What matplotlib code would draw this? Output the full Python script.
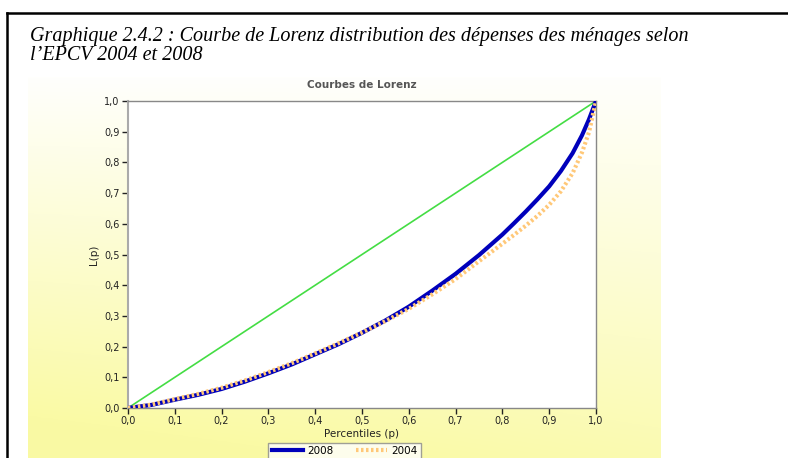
import numpy as np
import matplotlib
matplotlib.use("Agg")
from matplotlib import pyplot as plt

# percentiles (p) and Lorenz ordinates L(p)
p = [0.0, 0.05, 0.1, 0.15, 0.2, 0.25, 0.3, 0.35, 0.4, 0.45, 0.5, 0.55,
     0.6, 0.65, 0.7, 0.75, 0.8, 0.825, 0.85, 0.875, 0.9, 0.925, 0.95,
     0.97, 0.985, 1.0]
lorenz_2008 = [0.0, 0.010, 0.027, 0.043, 0.062, 0.086, 0.113, 0.142, 0.175,
               0.208, 0.245, 0.285, 0.330, 0.382, 0.437, 0.498, 0.565, 0.602,
               0.640, 0.680, 0.722, 0.772, 0.830, 0.888, 0.940, 1.0]
lorenz_2004 = [0.0, 0.011, 0.029, 0.046, 0.066, 0.090, 0.117, 0.146, 0.178,
               0.211, 0.246, 0.283, 0.323, 0.370, 0.420, 0.478, 0.535, 0.564,
               0.594, 0.626, 0.662, 0.706, 0.765, 0.832, 0.898, 1.0]
equality = [0.0, 1.0]

ticks = [0.0, 0.1, 0.2, 0.3, 0.4, 0.5, 0.6, 0.7, 0.8, 0.9, 1.0]
tick_labels = ["0,0", "0,1", "0,2", "0,3", "0,4", "0,5", "0,6", "0,7", "0,8", "0,9", "1,0"]

W, H = 788, 458
fig = plt.figure(figsize=(W / 100, H / 100), dpi=100)
fig.patch.set_facecolor("white")

# document frame (black border, open at the bottom and right)
fig.add_artist(plt.Line2D([7 / W, 7 / W], [0, 1 - 13 / H], color="black", lw=1.8))
fig.add_artist(plt.Line2D([7 / W, 1.0], [1 - 13 / H, 1 - 13 / H], color="black", lw=1.8))

fig.text(30 / W, 1 - 41 / H, "Graphique 2.4.2 : Courbe de Lorenz distribution des dépenses des ménages selon",
         family="Liberation Serif", style="italic", fontsize=14.5, va="baseline", ha="left")
fig.text(30 / W, 1 - 60 / H, "l’EPCV 2004 et 2008",
         family="Liberation Serif", style="italic", fontsize=14.5, va="baseline", ha="left")

# yellow gradient panel behind the chart
bg = fig.add_axes([28 / W, 0, 633 / W, 381 / H])
yy, xx = np.mgrid[0:1:200j, 0:1:200j]
t = np.clip(0.85 * yy + 0.25 * (1 - xx) * yy, 0, 1)
top = np.array([1.0, 1.0, 0.99])
bot = np.array([0.98, 0.98, 0.64])
img = top[None, None, :] * (1 - t[..., None]) + bot[None, None, :] * t[..., None]
bg.imshow(img, origin="upper", aspect="auto", extent=[0, 1, 1, 0])
bg.set_axis_off()

ax = fig.add_axes([128 / W, 1 - 408 / H, 468 / W, 307 / H])
ax.set_facecolor("white")
ax.plot(equality, equality, color="#44dd44", lw=1.2, zorder=2)
ax.plot(p, lorenz_2008, color="#0000bb", lw=3, label="2008", zorder=3)
ax.plot(p, lorenz_2004, color="#ffc878", lw=3, ls=(0, (0.6, 0.6)), label="2004", zorder=4)

ax.set_xlim(0, 1)
ax.set_ylim(0, 1)
ax.set_xticks(ticks)
ax.set_yticks(ticks)
ax.set_xticklabels(tick_labels)
ax.set_yticklabels(tick_labels)
ax.tick_params(direction="out", length=4, width=1, color="#222222", labelsize=7,
               labelcolor="#222222", pad=2)
for s in ax.spines.values():
    s.set_color("#888888")
    s.set_linewidth(1)
ax.spines["left"].set_color("#aaaaaa")
ax.spines["left"].set_linewidth(1.5)

ax.set_title("Courbes de Lorenz", fontsize=7.5, fontweight="bold", color="#555555", pad=9)
ax.set_xlabel("Percentiles (p)", fontsize=7.5, color="#222222", labelpad=2)
ax.set_ylabel("L(p)", fontsize=7.5, color="#222222", labelpad=4)

leg = ax.legend(loc="upper center", bbox_to_anchor=(0.463, -0.097), ncol=2, fontsize=7.5,
                frameon=True, fancybox=False, edgecolor="#888888", handlelength=3,
                columnspacing=2.2, borderpad=0.3, handletextpad=0.4)
leg.get_frame().set_linewidth(1)

fig.savefig("out.png", dpi=100)
